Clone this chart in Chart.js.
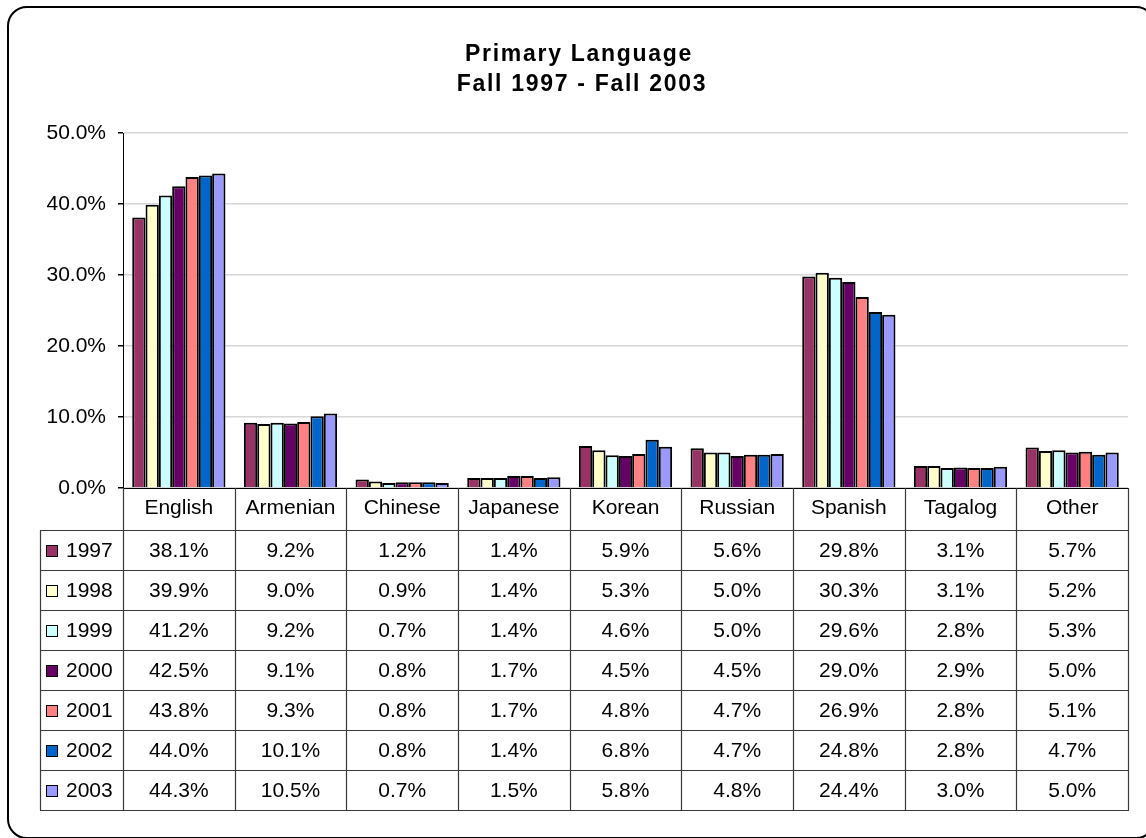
<!DOCTYPE html>
<html>
<head>
<meta charset="utf-8">
<script src="https://cdn.jsdelivr.net/npm/chart.js@4"></script>
<style>
  html, body { margin: 0; padding: 0; background: #fff; overflow: hidden; }
  #wrap { position: relative; width: 1146px; height: 838px; }
  #chart { position: absolute; left: 0; top: 0; }
  #frame {
    position: absolute; left: 7px; top: 6px; width: 1145px; height: 829px;
    border: 2px solid #000; border-radius: 20px; pointer-events: none;
  }
</style>
</head>
<body>
<div id="wrap">
  <canvas id="chart" width="1146" height="838"></canvas>
  <div id="frame"></div>
</div>
<script>
const titleLines = ["Primary Language", "Fall 1997 - Fall 2003"];
const categories = ["English", "Armenian", "Chinese", "Japanese", "Korean", "Russian", "Spanish", "Tagalog", "Other"];
const years = ["1997", "1998", "1999", "2000", "2001", "2002", "2003"];

const v1997 = [38.1, 9.2, 1.2, 1.4, 5.9, 5.6, 29.8, 3.1, 5.7];
const v1998 = [39.9, 9.0, 0.9, 1.4, 5.3, 5.0, 30.3, 3.1, 5.2];
const v1999 = [41.2, 9.2, 0.7, 1.4, 4.6, 5.0, 29.6, 2.8, 5.3];
const v2000 = [42.5, 9.1, 0.8, 1.7, 4.5, 4.5, 29.0, 2.9, 5.0];
const v2001 = [43.8, 9.3, 0.8, 1.7, 4.8, 4.7, 26.9, 2.8, 5.1];
const v2002 = [44.0, 10.1, 0.8, 1.4, 6.8, 4.7, 24.8, 2.8, 4.7];
const v2003 = [44.3, 10.5, 0.7, 1.5, 5.8, 4.8, 24.4, 3.0, 5.0];
const series = [v1997, v1998, v1999, v2000, v2001, v2002, v2003];

const colors = ["#993366", "#FFFFCC", "#CCFFFF", "#660066", "#FF8080", "#0066CC", "#9999FF"];

const FONT = '"Liberation Sans", Arial, sans-serif';

// title + data table under the plot, positioned from the chart's own scales
const tablePlugin = {
  id: "dataTable",
  afterDraw(chart) {
    const ctx = chart.ctx;
    const area = chart.chartArea;
    const xs = chart.scales.x;
    const colW = (area.right - area.left) / categories.length;
    const tableLeft = 40;
    const headerH = 42;
    const rowH = 40;
    const top = area.bottom;
    const rowsTop = top + headerH;
    const bottom = rowsTop + rowH * years.length;

    ctx.save();

    // title
    ctx.fillStyle = "#000";
    ctx.font = "bold 23px " + FONT;
    ctx.textAlign = "center";
    ctx.textBaseline = "alphabetic";
    ctx.letterSpacing = "1.7px";
    ctx.fillText(titleLines[0], 579, 61);
    ctx.fillText(titleLines[1], 582, 91);
    ctx.letterSpacing = "0px";

    // grid lines
    ctx.strokeStyle = "#3a3a3a";
    ctx.lineWidth = 1.2;
    ctx.beginPath();
    for (let i = 0; i <= categories.length; i++) {
      const x = Math.round(area.left + i * colW) + 0.5;
      ctx.moveTo(x, top);
      ctx.lineTo(x, bottom);
    }
    ctx.moveTo(tableLeft + 0.5, rowsTop);
    ctx.lineTo(tableLeft + 0.5, bottom);
    for (let r = 0; r <= years.length; r++) {
      const y = rowsTop + r * rowH + 0.5;
      ctx.moveTo(tableLeft, y);
      ctx.lineTo(Math.round(area.right) + 1, y);
    }
    ctx.stroke();

    // header row
    ctx.font = "21px " + FONT;
    ctx.textAlign = "center";
    ctx.textBaseline = "middle";
    categories.forEach((c, i) => {
      ctx.fillText(c, xs.getPixelForValue(i), top + headerH / 2 - 1);
    });

    // value rows
    ctx.lineWidth = 1;
    years.forEach((yr, r) => {
      const cy = rowsTop + r * rowH + rowH / 2;
      ctx.fillStyle = colors[r];
      ctx.fillRect(46.5, Math.round(cy - 5) + 0.5, 11, 11);
      ctx.strokeStyle = "#000";
      ctx.strokeRect(46.5, Math.round(cy - 5) + 0.5, 11, 11);
      ctx.fillStyle = "#000";
      ctx.textAlign = "left";
      ctx.fillText(yr, 66, cy + 1);
      ctx.textAlign = "center";
      series[r].forEach((v, i) => {
        ctx.fillText(v.toFixed(1) + "%", xs.getPixelForValue(i), cy + 1);
      });
    });

    ctx.restore();
  }
};

new Chart(document.getElementById("chart"), {
  type: "bar",
  data: {
    labels: categories,
    datasets: years.map((yr, i) => ({
      label: yr,
      data: series[i],
      backgroundColor: colors[i],
      borderColor: "#000",
      borderWidth: 2,
      categoryPercentage: 0.835,
      barPercentage: 1.0,
    })),
  },
  options: {
    responsive: false,
    animation: false,
    layout: { padding: { left: 0, right: 18, top: 133, bottom: 350 } },
    plugins: {
      legend: { display: false },
      title: { display: false },
      tooltip: { enabled: false },
    },
    scales: {
      x: {
        grid: { display: false },
        ticks: { display: false },
        border: { display: true, color: "#000", width: 1 },
        afterFit: (s) => { s.height = 0; },
      },
      y: {
        min: 0,
        max: 50,
        ticks: {
          stepSize: 10,
          color: "#000",
          padding: 12,
          font: { family: FONT, size: 21 },
          callback: (v) => v.toFixed(1) + "%",
        },
        grid: { color: "#d6d6d6", tickColor: "#000", tickLength: 5, lineWidth: 1.5 },
        border: { display: true, color: "#000", width: 1 },
        afterFit: (s) => { s.width = 123; },
      },
    },
  },
  plugins: [tablePlugin],
});
</script>
</body>
</html>
